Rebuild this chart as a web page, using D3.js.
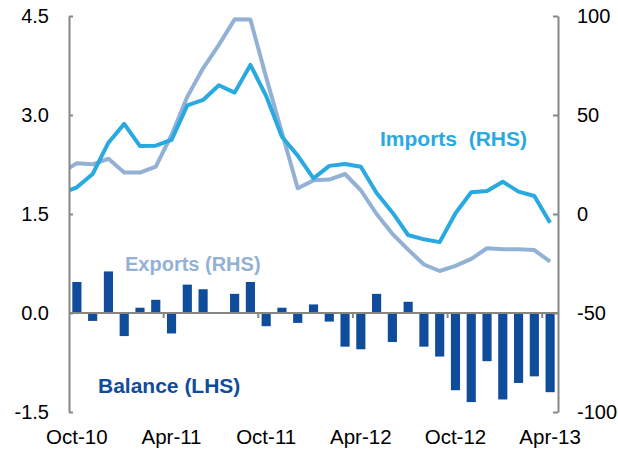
<!DOCTYPE html>
<html>
<head>
<meta charset="utf-8">
<script src="https://cdn.jsdelivr.net/npm/d3@7/dist/d3.min.js"></script>
<style>
  html, body { margin: 0; padding: 0; background: #fff; }
  svg { display: block; font-family: "Liberation Sans", Arial, sans-serif; }
</style>
</head>
<body>
<svg id="chart" width="618" height="449"></svg>
<script>
// ---- data ----
const months = ["Oct-10","Nov-10","Dec-10","Jan-11","Feb-11","Mar-11","Apr-11","May-11","Jun-11","Jul-11","Aug-11","Sep-11",
  "Oct-11","Nov-11","Dec-11","Jan-12","Feb-12","Mar-12","Apr-12","May-12","Jun-12","Jul-12","Aug-12","Sep-12",
  "Oct-12","Nov-12","Dec-12","Jan-13","Feb-13","Mar-13","Apr-13"];
const tickLabels = ["Oct-10","Apr-11","Oct-11","Apr-12","Oct-12","Apr-13"];
const leftTicks = [-1.5, 0.0, 1.5, 3.0, 4.5];
const rightTicks = [-100, -50, 0, 50, 100];
// Balance (LHS)
const balance = [0.47,-0.12,0.63,-0.35,0.08,0.20,-0.31,0.43,0.36,0.0,0.29,0.47,-0.20,0.08,-0.15,0.13,
  -0.13,-0.51,-0.55,0.29,-0.44,0.17,-0.51,-0.66,-1.17,-1.35,-0.73,-1.31,-1.06,-0.96,-1.20];
// Imports (RHS), y/y %
const imports = [13.5,20.2,36,45.5,34.3,34.5,37.4,54.9,57.6,65,61.3,75.3,59.6,39,29.5,18,24.3,25.3,23.9,
  10.6,0.8,-10.6,-12.8,-14.2,0.4,11,11.6,16.3,11.3,9.1,-4.4];
// Exports (RHS), y/y %
const exports_ = [25.6,25.1,27.9,20.9,20.9,23.9,39.9,59.2,73.6,85.4,98.3,98.2,69,41,13,17,17.4,20.2,12,
  0,-10,-18,-25.5,-28.8,-26.2,-22.7,-17.3,-17.8,-17.8,-18.2,-24.1];
// Sep-10 values (line enters from the left edge)
const importsPrev = 10.4;
const exportsPrev = 20.9;

// ---- layout ----
const svg = d3.select("#chart");
const pL = 69, pR = 558, pT = 16, pB = 412;
const axisColor = "#868686";
const cBars = "#0f4c9a", cImp = "#29a9e1", cExp = "#93b1d5";

const x = d3.scaleBand().domain(months).range([pL, pR]).paddingInner(0.42).paddingOuter(0.21);
const step = x.step();
const cx = m => x(m) + x.bandwidth() / 2;
const yL = d3.scaleLinear().domain([-1.5, 4.5]).range([pB, pT]);
const yR = d3.scaleLinear().domain([-100, 100]).range([pB, pT]);

svg.append("defs").append("clipPath").attr("id", "plot")
  .append("rect").attr("x", pL).attr("y", 0).attr("width", pR - pL).attr("height", 449);

// bars
svg.append("g").selectAll("rect").data(months).join("rect")
  .attr("x", m => x(m))
  .attr("width", x.bandwidth())
  .attr("y", (m, i) => yL(Math.max(0, balance[i])))
  .attr("height", (m, i) => Math.abs(yL(balance[i]) - yL(0)))
  .attr("fill", cBars);

// lines
function lineData(arr, prev) {
  const pts = [[cx(months[0]) - step, yR(prev)]];
  months.forEach((m, i) => pts.push([cx(m), yR(arr[i])]));
  return pts;
}
const lineGen = d3.line();
const lg = svg.append("g").attr("clip-path", "url(#plot)");
lg.append("path").attr("d", lineGen(lineData(exports_, exportsPrev)))
  .attr("fill", "none").attr("stroke", cExp).attr("stroke-width", 4).attr("stroke-linejoin", "round");
lg.append("path").attr("d", lineGen(lineData(imports, importsPrev)))
  .attr("fill", "none").attr("stroke", cImp).attr("stroke-width", 4).attr("stroke-linejoin", "round");

// left axis
const axL = svg.append("g").attr("transform", `translate(${pL},0)`)
  .call(d3.axisLeft(yL).tickValues(leftTicks).tickFormat(d => d.toFixed(1)).tickSizeInner(-4).tickSizeOuter(0).tickPadding(20));
// right axis
const axR = svg.append("g").attr("transform", `translate(${pR},0)`)
  .call(d3.axisRight(yR).tickValues(rightTicks).tickFormat(d => String(d)).tickSizeInner(-5).tickSizeOuter(0).tickPadding(19));
[axL, axR].forEach(a => {
  a.select(".domain").attr("stroke", axisColor).attr("stroke-width", 2);
  a.selectAll(".tick line").attr("stroke", axisColor).attr("stroke-width", 2);
  a.selectAll(".tick text").attr("fill", "#000").style("font-size", "20px")
    .style("font-family", "'Liberation Sans', Arial, sans-serif");
});
axL.selectAll(".tick line").attr("x2", 4);
axR.selectAll(".tick line").attr("x2", -5);

// x axis at zero
const y0 = yL(0);
const gx = svg.append("g");
gx.append("line").attr("x1", pL).attr("x2", pR).attr("y1", y0).attr("y2", y0)
  .attr("stroke", axisColor).attr("stroke-width", 2);
gx.selectAll("line.t").data(tickLabels.slice(1)).join("line").attr("class", "t")
  .attr("x1", m => x(m) - step * x.paddingInner() / 2)
  .attr("x2", m => x(m) - step * x.paddingInner() / 2)
  .attr("y1", y0).attr("y2", y0 + 5)
  .attr("stroke", axisColor).attr("stroke-width", 2);
gx.selectAll("text").data(tickLabels).join("text")
  .attr("x", m => cx(m)).attr("y", 444)
  .attr("text-anchor", "middle").style("font-size", "20.5px").attr("fill", "#000")
  .text(m => m);

// series labels
const lab = svg.append("g").style("font-weight", "bold");
lab.append("text").attr("x", 380).attr("y", 146).attr("fill", cImp).style("font-size", "21px").text("Imports\u00a0 (RHS)");
lab.append("text").attr("x", 125).attr("y", 271).attr("fill", cExp).style("font-size", "20px").text("Exports (RHS)");
lab.append("text").attr("x", 98).attr("y", 393).attr("fill", cBars).style("font-size", "21px").text("Balance (LHS)");
</script>
</body>
</html>
